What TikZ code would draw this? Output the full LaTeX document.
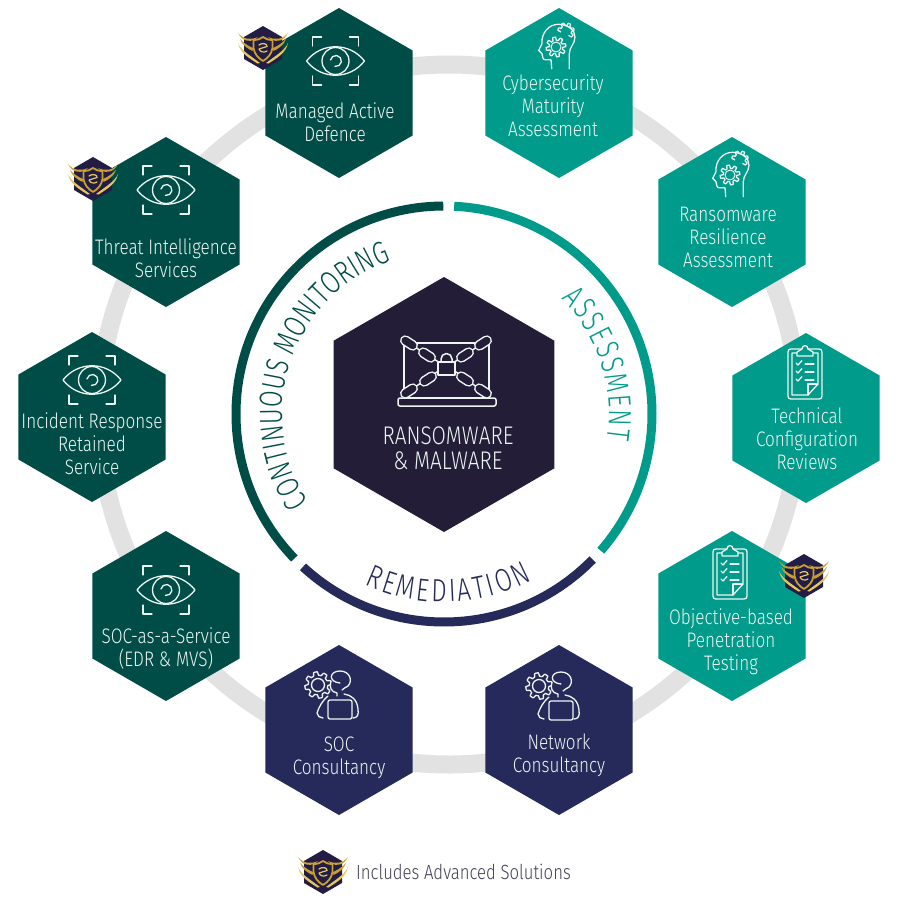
\documentclass[tikz,border=0pt]{standalone}
\usepackage{fontspec}
\setmainfont[UprightFont=* Light,FakeStretch=0.815]{Fira Sans}
\newfontfamily\arcface[UprightFont=* Light,FakeStretch=0.76]{Fira Sans}
\usetikzlibrary{shapes.geometric,decorations.text}
\definecolor{rgreen}{HTML}{004D47}
\definecolor{rteal}{HTML}{009B8A}
\definecolor{rnavy}{HTML}{252A5A}
\definecolor{rdark}{HTML}{231D38}
\definecolor{rgrey}{HTML}{E2E2E2}
\definecolor{rink}{HTML}{EDF5F3}
\definecolor{rgold}{HTML}{C9A032}
\definecolor{rgoldb}{HTML}{E6C65E}
\definecolor{rbadge}{HTML}{231D45}
\newcommand{\arcfontx}{\arcface\fontsize{32}{32}\selectfont}
\tikzset{
  hexa/.style={regular polygon,regular polygon sides=6,minimum size=170pt,inner sep=0pt,outer sep=0pt,draw=none,shape border rotate=30},
  hexgreen/.style={hexa,fill=rgreen},
  hexteal/.style={hexa,fill=rteal},
  hexnavy/.style={hexa,fill=rnavy},
  lab/.style={text=rink,align=center,inner sep=0pt,font=\fontsize{21}{23}\selectfont},
  icon/.style={draw=rink,line width=1.3pt,line cap=round,line join=round},
  pics/eyeicon/.style={code={
    \draw[icon] (-23,15)--(-23,24)--(-14,24) (14,24)--(23,24)--(23,15) (23,-15)--(23,-24)--(14,-24) (-14,-24)--(-23,-24)--(-23,-15);
    \draw[icon] (-29,0) .. controls (-14,19) and (14,19) .. (29,0) .. controls (14,-19) and (-14,-19) .. (-29,0) -- cycle;
    \draw[icon] (0,0) circle[radius=13.5pt];
    \draw[icon] (-5,1) arc[start angle=170,end angle=-100,radius=5.5pt];
  }},
  pics/headicon/.style={code={
    \draw[icon] (-4.3,-21.7) -- (-5,-12.7) -- (-11,-12.7) .. controls (-13.5,-12.7) and (-13.5,-9) .. (-14,-6.7) -- (-17.3,-3.3) -- (-14,3.3) .. controls (-15,14) and (-7,22.7) .. (2.3,22.7) .. controls (13,22.7) and (19,16) .. (19,10) .. controls (19,3) and (13.3,0) .. (13.3,-6.7) -- (13.3,-21.7);
    \draw[icon] plot[domain=0:360,samples=121] (\x:{8.3+1.6*max(-1,min(1,2.5*sin(8*\x)))}) -- cycle;
    \draw[icon,line width=1pt] (0,0) circle[radius=5pt];
    \begin{scope}[shift={(10,16)}]
    \draw[icon] plot[domain=-60:190,samples=81] (\x:{6.8+1.3*max(-1,min(1,2.5*sin(7*\x)))});
    \end{scope}
  }},
  pics/clipicon/.style={code={
    \draw[icon] (-14,25) -- (14,25) .. controls (16,25) and (17,24) .. (17,22) -- (17,-22) .. controls (17,-24) and (16,-25) .. (14,-25) -- (-14,-25) .. controls (-16,-25) and (-17,-24) .. (-17,-22) -- (-17,22) .. controls (-17,24) and (-16,25) .. (-14,25) -- cycle;
    \draw[icon] (-7,21) -- (-13,21) -- (-13,-21) -- (3,-21) -- (13,-10) -- (13,21) -- (7,21);
    \draw[icon] (3,-21) -- (3,-10) -- (13,-10);
    \draw[icon,fill=rteal] (-8,18) -- (8,18) -- (8,22) -- (3,25) .. controls (3,29.5) and (-3,29.5) .. (-3,25) -- (-8,22) -- cycle;
    \foreach \yy in {11,3,-5}{
      \draw[icon] (-9,\yy) -- (-7,{\yy-2}) -- (-3,{\yy+2.5});
      \draw[icon] (0,\yy-1) -- (9,\yy-1);
    }
  }},
  pics/agenticon/.style={code={
    \begin{scope}[shift={(-17,10)}]
    \draw[icon,fill=rnavy] plot[domain=0:360,samples=121] (\x:{11.5+1.7*max(-1,min(1,2.5*sin(8*\x)))}) -- cycle;
    \draw[icon] (0,0) circle[radius=6.5pt];
    \end{scope}
    \draw[icon,fill=rnavy] (5,12) .. controls (-7,13) and (-6,24) .. (5,24) .. controls (15,24) and (18,14) .. (13,9) .. controls (11,7) and (8,7) .. (7,5);
    \draw[icon,fill=rnavy] (-4,14) .. controls (-6,8) and (-4,3) .. (2,2) -- (2,-1);
    \draw[icon] (9,1) .. controls (16,0) and (22,-4) .. (23,-14) .. controls (24,-20) and (22,-23) .. (18,-23);
    \draw[icon] (-7,-1) .. controls (-13,-6) and (-16,-12) .. (-18,-18) .. controls (-18,-21) and (-15,-23) .. (-12,-23);
    \draw[icon,fill=rnavy,rounded corners=2pt] (-7,-5) rectangle (17,-24);
  }},
  pics/badgeicon/.style={code={
    \fill[rbadge] (0,22)--(19,11)--(19,-11)--(0,-22)--(-19,-11)--(-19,11)--cycle;
    \foreach \sx in {1,-1}{
      \begin{scope}[xscale=\sx]
      \fill[rgold] (-25,15) .. controls (-19,8) and (-12,8) .. (-5,11) -- (-8,8.5) .. controls (-14,5.5) and (-21,7) .. cycle;
      \fill[rgoldb] (-25,5) .. controls (-22,-2) and (-15,-6) .. (-3,-15) -- (-5.5,-15.5) .. controls (-14,-10) and (-23,-5) .. cycle;
      \fill[rgold] (-23,9) .. controls (-19,5) and (-15,2) .. (-10,0) -- (-10.5,-3) .. controls (-15,-1) and (-21,3) .. cycle;
      \end{scope}
    }
    \draw[rgold,line width=1.8pt,fill=rbadge,line join=round] (-9.5,8) .. controls (-5,8) and (-3,9) .. (0,11) .. controls (3,9) and (5,8) .. (9.5,8) -- (9.5,0) .. controls (8.5,-6) and (5,-10) .. (0,-13) .. controls (-5,-10) and (-8.5,-6) .. (-9.5,0) -- cycle;
    \draw[rgoldb,line width=1.2pt,line cap=round] (-4,-1) -- (4,1.5) .. controls (4.5,4.5) and (-1,5.5) .. (-4,3) (-4,-1) .. controls (-3,-4) and (1,-5) .. (4,-3);
  }},
  pics/lockicon/.style={code={
    \draw[icon,line width=1.5pt] (-40,25) rectangle (45,-30);
    \draw[icon,line width=1.5pt,rounded corners=2pt,fill=rdark] (-46,-30) rectangle (52,-38);
    \foreach \cx/\cy/\ang in {-26/19/-33,-7/7/-33,30/19/33,12/7/33,-26/-17/33,-7/-4/33,30/-17/-33,12/-4/-33}{
      \begin{scope}[shift={(\cx,\cy)},rotate=\ang]
      \draw[rink,line width=1.5pt,line cap=round] (-5,0) -- (5,0);
      \end{scope}
    }
    \foreach \cx/\cy/\ang in {-35/25/-33,-17/13/-33,39/25/33,21/13/33,-35/-23/33,-16/-11/33,39/-23/-33,21/-11/-33}{
      \begin{scope}[shift={(\cx,\cy)},rotate=\ang]
      \draw[rink,line width=10.5pt,line cap=round] (-4.5,0) -- (4.5,0);
      \draw[rdark,line width=7.5pt,line cap=round] (-4.5,0) -- (4.5,0);
      \end{scope}
    }
    \draw[icon,line width=1.5pt,fill=rdark] (-3,2) -- (-3,9) arc[start angle=180,end angle=0,radius=5.5pt] -- (8,2);
    \draw[icon,line width=1.5pt,fill=rdark] (-6,6) rectangle (11,-7);
  }},
}
\begin{document}
\begin{tikzpicture}[x=1pt,y=1pt]
\useasboundingbox (0,-900) rectangle (900,0);
\fill[white] (0,-900) rectangle (900,0);
% outer grey ring
\draw[rgrey,line width=18pt] (449,-414.5) circle[radius=350pt];
% inner arcs
\begin{scope}[shift={(444,-414)}]
  \draw[rgreen,line width=9pt] (224:208) arc[start angle=224,end angle=90.2,radius=208pt];
  \draw[rteal,line width=9pt] (87.2:208) arc[start angle=87.2,end angle=-41.1,radius=208pt];
  \draw[rnavy,line width=9pt] (227.3:208) arc[start angle=227.3,end angle=315.6,radius=208pt];
  \path[decorate,decoration={text along path,text align={fit to path},text={|\arcfontx\color{rgreen}|CONTINUOUS MONITORING}}] (213:162) arc[start angle=213,end angle=109,radius=162pt];
  \path[decorate,decoration={text along path,text align={fit to path},text={|\arcfontx\color{rteal}|ASSESSMENT}}] (44.5:165) arc[start angle=44.5,end angle=-9,radius=165pt];
  \path[decorate,decoration={text along path,text align={fit to path},text={|\arcfontx\color{rnavy}|REMEDIATION}}] (245:188) arc[start angle=245,end angle=298,radius=188pt];
\end{scope}
% hexagons
\node[hexgreen] (hman) at (339,-93) {};
\node[hexteal] (hcyb) at (559,-93) {};
\node[hexteal] (hran) at (732,-222) {};
\node[hexteal] (htec) at (806,-418) {};
\node[hexteal] (hobj) at (732,-616) {};
\node[hexnavy] (hnet) at (559,-730) {};
\node[hexnavy] (hsoc) at (339,-730) {};
\node[hexgreen] (hsas) at (166,-616) {};
\node[hexgreen] (hinc) at (92,-417) {};
\node[hexgreen] (hthr) at (166,-222) {};
\node[hexa,minimum size=255pt,fill=rdark] (hcen) at (444,-404.5) {};
% labels
\node[lab] (lman) at (335,-122.5) {Managed Active\\Defence};
\node[lab] (lcyb) at (553,-106) {Cybersecurity\\Maturity\\Assessment};
\node[lab] (lran) at (728,-237) {Ransomware\\Resilience\\Assessment};
\node[lab] (ltec) at (807,-439) {Technical\\Configuration\\Reviews};
\node[lab] (lobj) at (731,-642) {Objective-based\\Penetration\\Testing};
\node[lab] (lnet) at (559,-755.5) {Network\\Consultancy};
\node[lab] (lsoc) at (339,-757.5) {SOC\\Consultancy};
\node[lab] (lsas) at (166,-648.5) {SOC-as-a-Service\\(EDR \& MVS)};
\node[lab] (linc) at (92,-444) {Incident Response\\Retained\\Service};
\node[lab] (lthr) at (166,-258.5) {Threat Intelligence\\Services};
\node[lab,font=\fontsize{25.5}{25}\selectfont] (lcen) at (448,-448) {RANSOMWARE\\\& MALWARE};
\node[lab,text=rdark!85!white,anchor=west,font=\fontsize{20.5}{23}\selectfont] (lleg) at (356,-872) {Includes Advanced Solutions};
% icons
\pic (e1) at (335.5,-61) {eyeicon};
\pic (e2) at (166,-190) {eyeicon};
\pic (e3) at (92,-380) {eyeicon};
\pic (e4) at (166,-590) {eyeicon};
\pic (g1) at (556,-47) {headicon};
\pic (g2) at (730,-175) {headicon};
\pic (c1) at (805,-374) {clipicon};
\pic (c2) at (730,-574) {clipicon};
\pic (a1) at (335,-695) {agenticon};
\pic (a2) at (556,-696) {agenticon};
\pic (k1) at (444,-368) {lockicon};
\pic (b1) at (263,-48) {badgeicon};
\pic (b2) at (93,-179) {badgeicon};
\pic (b3) at (804,-576) {badgeicon};
\pic (b4) at (323,-872) {badgeicon};
\end{tikzpicture}
\end{document}
